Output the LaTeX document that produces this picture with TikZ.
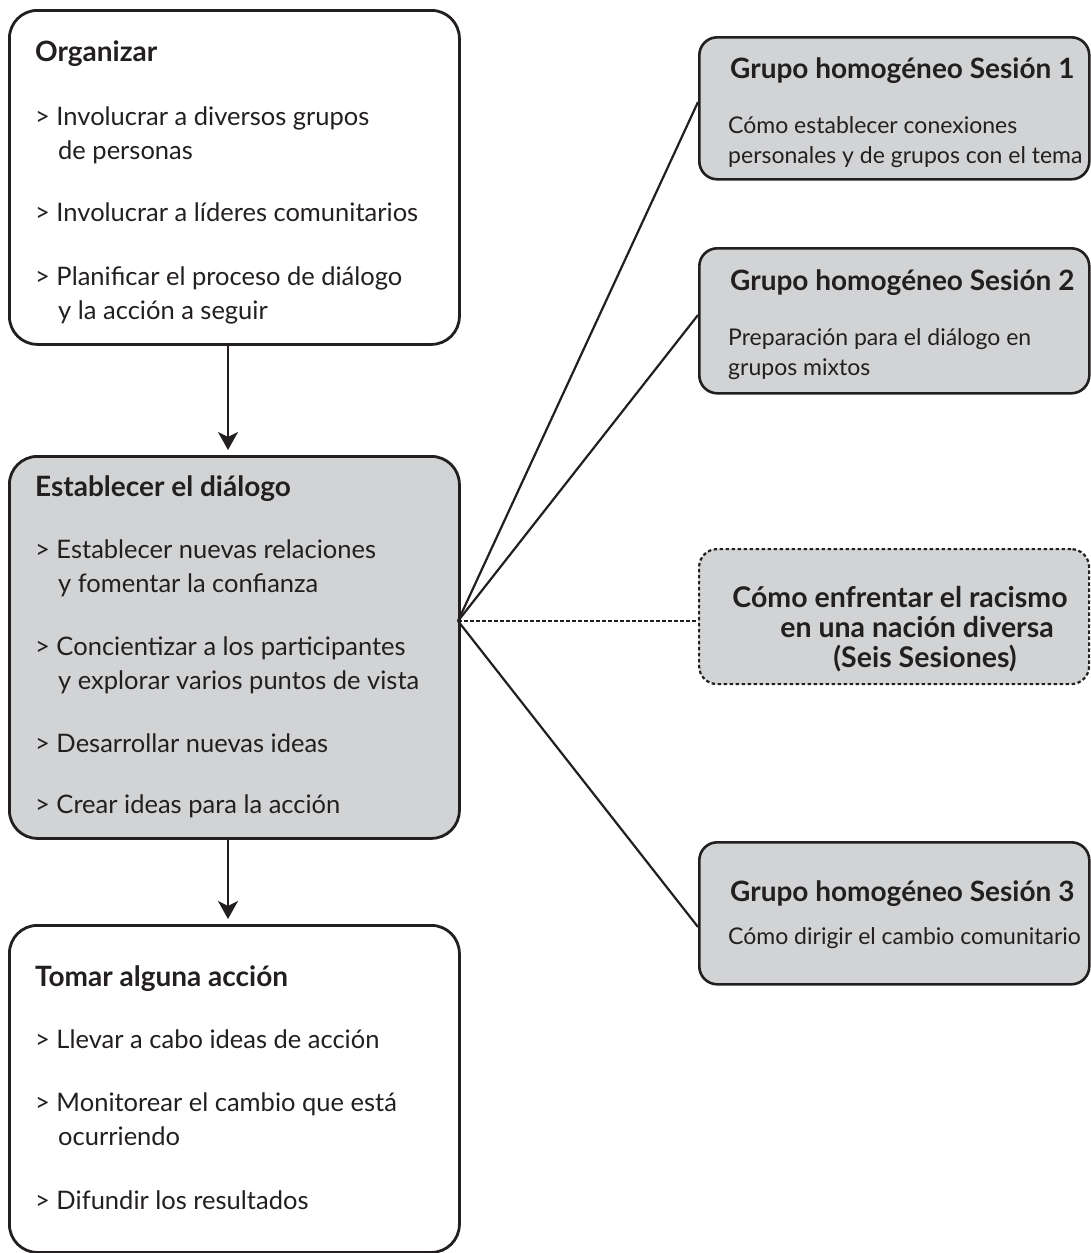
\documentclass[tikz,border=0pt]{standalone}
\usepackage{fontspec}
\setmainfont{Lato}
\usetikzlibrary{arrows.meta}
\definecolor{ink}{HTML}{231F20}
\definecolor{boxgray}{HTML}{D1D3D4}
\begin{document}
\begin{tikzpicture}[x=1pt,y=-1pt,
  bigbox/.style={draw=ink, line width=2.8pt, rounded corners=28pt, anchor=north west, inner sep=0pt},
  smallbox/.style={draw=ink, line width=2.6pt, rounded corners=18pt, anchor=north west, fill=boxgray, inner sep=0pt},
  txt/.style={anchor=base west, inner sep=0pt, text=ink, font=\fontsize{25.5}{30}\selectfont},
  rtxt/.style={anchor=base west, inner sep=0pt, text=ink, font=\fontsize{23}{28}\selectfont},
  ttl/.style={anchor=base west, inner sep=0pt, text=ink, font=\fontsize{28}{32}\selectfont\bfseries},
  ctr/.style={anchor=base, inner sep=0pt, text=ink, font=\fontsize{28.5}{32}\selectfont\bfseries},
  link/.style={draw=ink, line width=2.2pt},
  dotlink/.style={draw=ink, line width=2.2pt, dash pattern=on 3.5pt off 2.5pt},
  flow/.style={draw=ink, line width=1.8pt, shorten >=5pt, -{Stealth[length=18pt,width=20pt,inset=5pt]}}
]
\useasboundingbox (0,0) rectangle (1091,1253);

% left column boxes
\node[bigbox, minimum width=450pt, minimum height=334pt] (org) at (8,9) {};
\node[bigbox, fill=boxgray, minimum width=450pt, minimum height=382pt] (est) at (8,455) {};
\node[bigbox, minimum width=450pt, minimum height=327pt] (tom) at (8,924) {};

% right column boxes
\node[smallbox, minimum width=390pt, minimum height=142pt] (r1) at (698,36) {};
\node[smallbox, minimum width=390pt, minimum height=145pt] (r2) at (698,247) {};
\node[smallbox, dotlink, rounded corners=18pt, minimum width=390pt, minimum height=135pt] (r3) at (698,548) {};
\node[smallbox, minimum width=390pt, minimum height=142pt] (r4) at (698,841) {};

% texts box 1
\node[ttl] (o0) at (35,61) {Organizar};
\node[txt] (o1) at (35,125) {> Involucrar a diversos grupos};
\node[txt] (o2) at (58,159) {de personas};
\node[txt] (o3) at (35,221) {> Involucrar a líderes comunitarios};
\node[txt] (o4) at (35,285) {> Planificar el proceso de diálogo};
\node[txt] (o5) at (58,319) {y la acción a seguir};

% texts box 2
\node[ttl] (e0) at (35,496) {Establecer el diálogo};
\node[txt] (e1) at (35,558) {> Establecer nuevas relaciones};
\node[txt] (e2) at (58,592) {y fomentar la confianza};
\node[txt] (e3) at (35,655) {> Concientizar a los participantes};
\node[txt] (e4) at (58,689) {y explorar varios puntos de vista};
\node[txt] (e5) at (35,752) {> Desarrollar nuevas ideas};
\node[txt] (e6) at (35,813) {> Crear ideas para la acción};

% texts box 3
\node[ttl] (t0) at (35,986) {Tomar alguna acción};
\node[txt] (t1) at (35,1048) {> Llevar a cabo ideas de acción};
\node[txt] (t2) at (35,1111) {> Monitorear el cambio que está};
\node[txt] (t3) at (58,1145) {ocurriendo};
\node[txt] (t4) at (35,1209) {> Difundir los resultados};

% right texts
\node[ttl] (a0) at (730,78) {Grupo homogéneo Sesión 1};
\node[rtxt] (a1) at (728,133) {Cómo establecer conexiones};
\node[rtxt] (a2) at (728,163) {personales y de grupos con el tema};

\node[ttl] (b0) at (730,290) {Grupo homogéneo Sesión 2};
\node[rtxt] (b1) at (728,345) {Preparación para el diálogo en};
\node[rtxt] (b2) at (728,375) {grupos mixtos};

\node[ctr] (c0) at (900,607) {Cómo enfrentar el racismo};
\node[ctr] (c1) at (917,637) {en una nación diversa};
\node[ctr] (c2) at (925,667) {(Seis Sesiones)};

\node[ttl] (d0) at (730,901) {Grupo homogéneo Sesión 3};
\node[rtxt] (d1) at (728,944) {Cómo dirigir el cambio comunitario};

% connectors
\draw[flow] (org.south -| 228,0) -- (est.north -| 228,0);
\draw[flow] (est.south -| 228,0) -- (tom.north -| 228,0);

\coordinate (hub) at (458,621);
\draw[link] (hub) -- (r1.west |- 0,102);
\draw[link] (hub) -- (r2.west |- 0,315);
\draw[dotlink] (hub) -- (r3.west |- 0,621);
\draw[link] (hub) -- (r4.west |- 0,927);
\end{tikzpicture}
\end{document}
